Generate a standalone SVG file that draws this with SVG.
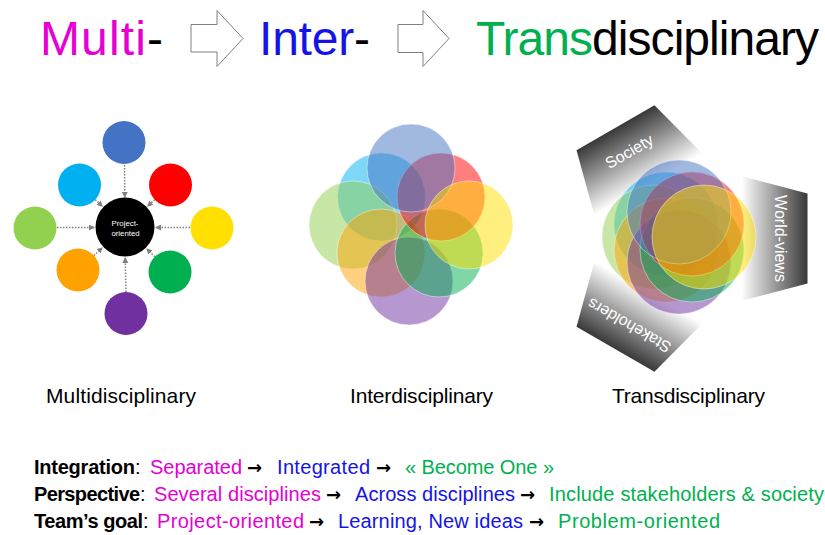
<svg xmlns="http://www.w3.org/2000/svg" width="825" height="535" viewBox="0 0 825 535">
<style>
text{font-family:"Liberation Sans",Arial,sans-serif}
.t{font-size:48px}
.lab{font-size:21px;fill:#000}
.b{font-size:20px}
.mg{fill:#E600D2}
.bl{fill:#1414E6}
.gr{fill:#00B050}
.bk{fill:#000}
.blk{fill:#000;font-weight:bold}
.arr{font-family:"DejaVu Sans",sans-serif;font-weight:bold;font-size:18px;fill:#000}
.ol{stroke:#fff;stroke-opacity:0.55;stroke-width:0.8}
.c1{fill-opacity:0.5}
.dot{stroke:#808080;stroke-width:1.5;stroke-dasharray:1.5 1.5;fill:none;marker-end:url(#ah)}
.bigarrow{fill:#fff;stroke:#808080;stroke-width:1}
.blade{fill:url(#bg)}
.bt{font-size:16px;fill:#fff}
</style>
<defs>
<marker id="ah" viewBox="0 0 6 6" refX="5" refY="3" markerWidth="6" markerHeight="6" markerUnits="userSpaceOnUse" orient="auto">
<path d="M0,0 L6,3 L0,6 z" fill="#808080"/>
</marker>
<linearGradient id="bg" gradientUnits="userSpaceOnUse" x1="128" y1="0" x2="62" y2="0">
<stop offset="0" stop-color="#383838"/>
<stop offset="1" stop-color="#ffffff"/>
</linearGradient>
</defs>

<!-- Title -->
<g id="title">
<text class="t" x="40" y="54.5" textLength="123" lengthAdjust="spacing"><tspan class="mg">Multi</tspan><tspan class="bk">-</tspan></text>
<polygon class="bigarrow" points="191,24.5 217,24.5 217,10.5 243,38.5 217,66.5 217,52 191,52"/>
<text class="t" x="259" y="54.5" textLength="111" lengthAdjust="spacing"><tspan class="bl">Inter</tspan><tspan class="bk">-</tspan></text>
<polygon class="bigarrow" points="398,24.5 423,24.5 423,10.5 449,38.5 423,66.5 423,52.5 398,52.5"/>
<text class="t" x="476" y="54.5" textLength="343" lengthAdjust="spacing"><tspan class="gr">Trans</tspan><tspan class="bk">disciplinary</tspan></text>
</g>

<!-- Multidisciplinary panel -->
<g id="multi">
<g id="connectors">
<line class="dot" x1="124.5" y1="165" x2="124.8" y2="197"/>
<line class="dot" x1="154.7" y1="199.6" x2="147.8" y2="206"/>
<line class="dot" x1="190" y1="227.5" x2="156" y2="227.5"/>
<line class="dot" x1="154.8" y1="256.8" x2="146.9" y2="248.9"/>
<line class="dot" x1="126" y1="292" x2="125.2" y2="258"/>
<line class="dot" x1="93.9" y1="255.5" x2="102.1" y2="247.9"/>
<line class="dot" x1="57" y1="227.5" x2="94" y2="227.5"/>
<line class="dot" x1="95.3" y1="199.6" x2="102.2" y2="206"/>
</g>
<g id="m-center"><circle cx="125" cy="227" r="29.5" fill="#000"/>
<text x="125" y="225.5" text-anchor="middle" style="font-size:7.8px;fill:#fff">Project-</text>
<text x="125.5" y="235.5" text-anchor="middle" style="font-size:7.8px;fill:#fff">oriented</text></g>
<g id="m-blue"><circle cx="124" cy="142.5" r="21.5" fill="#4472C4"/></g>
<g id="m-red"><circle cx="170.5" cy="185" r="21.5" fill="#FF0000"/></g>
<g id="m-yellow"><circle cx="212" cy="228" r="21.5" fill="#FFE000"/></g>
<g id="m-green"><circle cx="170" cy="272" r="21.5" fill="#00B050"/></g>
<g id="m-purple"><circle cx="126" cy="313.5" r="21.5" fill="#7030A0"/></g>
<g id="m-orange"><circle cx="78" cy="270" r="21.5" fill="#FFA200"/></g>
<g id="m-lightgreen"><circle cx="35" cy="228" r="21.5" fill="#92D050"/></g>
<g id="m-cyan"><circle cx="79.5" cy="185" r="21.5" fill="#00B0F0"/></g>
<text class="lab" x="46" y="403" textLength="150" lengthAdjust="spacing">Multidisciplinary</text>
</g>

<!-- Interdisciplinary panel -->
<g id="inter">
<circle class="c1 ol" cx="381.5" cy="197" r="44" fill="#00B0F0"/>
<circle class="c1 ol" cx="353" cy="225" r="44" fill="#92D050"/>
<circle class="c1 ol" cx="381" cy="253" r="44" fill="#FFA200"/>
<circle class="c1 ol" cx="409" cy="281" r="44" fill="#7030A0"/>
<circle class="c1 ol" cx="439" cy="253" r="44" fill="#00B050"/>
<circle class="c1 ol" cx="441" cy="197" r="44" fill="#FF0000"/>
<circle class="c1 ol" cx="411" cy="168" r="44" fill="#4472C4"/>
<circle class="c1 ol" cx="469" cy="225" r="44" fill="#FFE000"/>
<text class="lab" x="350" y="403" textLength="143" lengthAdjust="spacing">Interdisciplinary</text>
</g>

<!-- Transdisciplinary panel -->
<g id="trans">
<g transform="translate(679.5,238.5)">
<g id="blade-society" transform="rotate(240)">
<polygon class="blade" points="25,-72 128,-45 128,45 25,72"/>
<text class="bt" transform="translate(95,0) rotate(90)" text-anchor="middle">Society</text>
</g>
<g id="blade-stakeholders" transform="rotate(120)">
<polygon class="blade" points="25,-72 128,-45 128,45 25,72"/>
<text class="bt" transform="translate(95,0) rotate(90)" text-anchor="middle">Stakeholders</text>
</g>
<g id="blade-worldviews" transform="rotate(0)">
<polygon class="blade" points="25,-72 128,-45 128,45 25,72"/>
<text class="bt" transform="translate(95,0) rotate(90)" text-anchor="middle">World-views</text>
</g>
</g>
<circle class="c1 ol" cx="666" cy="224" r="52" fill="#00B0F0"/>
<circle class="c1 ol" cx="654" cy="237" r="52" fill="#92D050"/>
<circle class="c1 ol" cx="666" cy="250" r="52" fill="#FFA200"/>
<circle class="c1 ol" cx="679" cy="262" r="52" fill="#7030A0"/>
<circle class="c1 ol" cx="692" cy="250" r="52" fill="#00B050"/>
<circle class="c1 ol" cx="692" cy="224" r="52" fill="#FF0000"/>
<circle class="c1 ol" cx="679" cy="212" r="52" fill="#4472C4"/>
<circle class="c1 ol" cx="704" cy="237" r="52" fill="#FFE000"/>
<text class="lab" x="612" y="403" textLength="153" lengthAdjust="spacing">Transdisciplinary</text>
</g>

<!-- Bottom summary -->
<g id="summary">
<text class="b blk" x="34" y="474" textLength="101" lengthAdjust="spacing">Integration</text>
<text class="b bk" x="135" y="474">:</text>
<text class="b mg" x="150" y="474" textLength="92" lengthAdjust="spacing">Separated</text>
<text class="arr" x="247" y="474">→</text>
<text class="b bl" x="277" y="474" textLength="93" lengthAdjust="spacing">Integrated</text>
<text class="arr" x="376" y="474">→</text>
<text class="b gr" x="405" y="474" textLength="149" lengthAdjust="spacing">« Become One »</text>

<text class="b blk" x="34" y="501" textLength="106" lengthAdjust="spacing">Perspective</text>
<text class="b bk" x="140" y="501">:</text>
<text class="b mg" x="154" y="501" textLength="167" lengthAdjust="spacing">Several disciplines</text>
<text class="arr" x="326" y="501">→</text>
<text class="b bl" x="355" y="501" textLength="160" lengthAdjust="spacing">Across disciplines</text>
<text class="arr" x="520" y="501">→</text>
<text class="b gr" x="549" y="501" textLength="275" lengthAdjust="spacing">Include stakeholders &amp; society</text>

<text class="b blk" x="34" y="528" textLength="109" lengthAdjust="spacing">Team’s goal</text>
<text class="b bk" x="143" y="528">:</text>
<text class="b mg" x="157" y="528" textLength="147" lengthAdjust="spacing">Project-oriented</text>
<text class="arr" x="309" y="528">→</text>
<text class="b bl" x="338" y="528" textLength="185" lengthAdjust="spacing">Learning, New ideas</text>
<text class="arr" x="529" y="528">→</text>
<text class="b gr" x="558" y="528" textLength="162" lengthAdjust="spacing">Problem-oriented</text>
</g>
</svg>
